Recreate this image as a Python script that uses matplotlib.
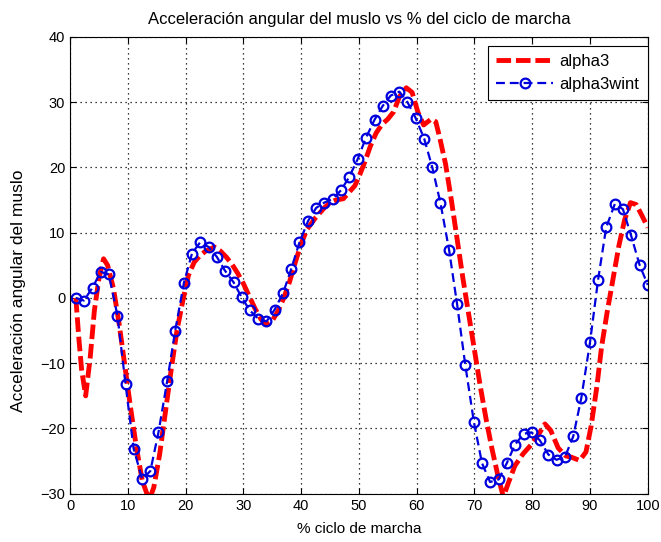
import matplotlib
matplotlib.use("Agg")
import matplotlib.pyplot as plt

plt.rcParams['font.family'] = ['Liberation Sans', 'DejaVu Sans']

# alpha3 (linea roja, sin marcadores)
x_alpha3 = [1.0, 1.5, 2.0, 2.7, 3.5, 4.2, 5.0, 5.8, 6.5, 7.5, 8.5, 9.5, 10.5,
            11.5, 12.5, 13.7, 14.5, 15.5, 16.5, 17.5, 18.5, 19.5, 20.5, 21.5,
            22.5, 23.5, 25.0, 26.0, 27.0, 28.0, 29.0, 30.0, 31.0, 32.0, 33.0,
            34.0, 35.0, 36.0, 37.0, 38.0, 39.0, 40.0, 41.0, 42.5, 44.0, 45.0,
            46.0, 47.3, 48.3, 49.3, 50.2, 51.0, 52.0, 53.0, 54.0, 55.0, 56.0,
            57.0, 58.2, 59.2, 60.2, 61.2, 62.5, 63.3, 64.0, 65.0, 66.0, 67.0,
            68.0, 69.0, 70.0, 71.0, 72.0, 73.0, 74.0, 75.0, 75.8, 77.0, 78.4,
            79.9, 81.3, 82.2, 83.2, 84.5, 85.8, 86.8, 88.2, 89.3, 90.2, 91.2,
            92.0, 93.0, 94.0, 95.0, 96.0, 97.0, 98.0, 99.0, 100.0]
y_alpha3 = [0.0, -6.0, -11.0, -15.0, -9.0, -2.0, 3.0, 6.0, 5.0, 1.5, -4.0,
            -10.5, -17.0, -23.0, -28.0, -31.0, -29.0, -24.0, -17.5, -11.0,
            -5.0, -0.5, 3.5, 5.5, 6.5, 7.2, 7.8, 7.2, 6.3, 5.2, 3.8, 2.2, 0.3,
            -1.6, -3.2, -4.1, -3.5, -2.0, 0.0, 2.5, 5.5, 8.3, 10.5, 12.3,
            13.8, 14.6, 15.0, 15.2, 16.2, 17.2, 19.0, 20.8, 23.3, 25.3, 26.6,
            27.4, 28.5, 30.8, 32.2, 31.5, 28.5, 26.5, 27.4, 27.0, 24.5, 20.5,
            15.0, 9.0, 3.0, -2.5, -8.0, -13.5, -18.5, -23.0, -27.0, -30.5,
            -28.5, -25.7, -23.9, -22.4, -20.6, -19.3, -20.3, -23.0, -24.2,
            -24.4, -24.9, -23.6, -19.6, -13.5, -7.5, -2.0, 3.0, 8.0, 12.0,
            14.6, 14.3, 12.6, 10.8]

# alpha3wint (linea azul con circulos)
x_wint = [1.0, 2.4, 3.9, 5.3, 6.7, 8.2, 9.6, 11.0, 12.5, 13.9, 15.3, 16.8,
          18.2, 19.7, 21.1, 22.5, 24.0, 25.4, 26.8, 28.3, 29.7, 31.1, 32.6,
          34.0, 35.4, 36.9, 38.3, 39.7, 41.2, 42.6, 44.0, 45.5, 46.9, 48.3,
          49.8, 51.2, 52.7, 54.1, 55.5, 57.0, 58.4, 59.8, 61.3, 62.7, 64.1,
          65.6, 67.0, 68.4, 69.9, 71.3, 72.7, 74.2, 75.6, 77.0, 78.5, 79.9,
          81.3, 82.8, 84.2, 85.7, 87.1, 88.5, 90.0, 91.4, 92.8, 94.3, 95.7,
          97.1, 98.6, 100.0]
y_wint = [0.0, -0.4, 1.6, 4.0, 3.6, -2.7, -13.2, -23.1, -27.8, -26.5, -20.6,
          -12.8, -5.0, 2.3, 6.8, 8.5, 7.8, 6.3, 4.2, 2.4, 0.1, -1.9, -3.2,
          -3.6, -1.8, 0.8, 4.5, 8.5, 11.8, 13.8, 14.6, 15.2, 16.5, 18.5, 21.3,
          24.5, 27.3, 29.4, 31.0, 31.6, 30.0, 27.6, 24.4, 20.0, 14.6, 7.4,
          -1.0, -10.2, -19.0, -25.3, -28.2, -27.8, -25.3, -22.5, -20.8, -20.6,
          -21.8, -24.0, -24.8, -24.3, -21.2, -15.3, -6.8, 2.8, 10.8, 14.4,
          13.6, 9.6, 5.0, 2.0]

fig = plt.figure(figsize=(6.61, 5.42), dpi=100)
ax = fig.add_axes([0.106, 0.089, 0.874, 0.843])

ax.plot(x_alpha3, y_alpha3, color='red', linewidth=3.5, dashes=(3, 1),
        label='alpha3')
ax.plot(x_wint, y_wint, color='#0000dd', linewidth=1.6, dashes=(4, 2.2),
        marker='o', markersize=7, markerfacecolor='none',
        markeredgewidth=1.6, label='alpha3wint')

ax.set_xlim(0, 100)
ax.set_ylim(-30, 40)
ax.set_xticks(range(0, 101, 10))
ax.set_yticks(range(-30, 41, 10))
ax.grid(True, color='black', linestyle=(0, (1, 3)), linewidth=0.9)
ax.tick_params(direction='in', top=True, right=True, labelsize=10.5,
               length=4)
for s in ax.spines.values():
    s.set_linewidth(0.8)

ax.set_title('Acceleración angular del muslo vs % del ciclo de marcha',
             fontsize=12, pad=9)
ax.set_xlabel('% ciclo de marcha', fontsize=11, labelpad=7)
ax.set_ylabel('Acceleración angular del muslo', fontsize=12.5)
ax.yaxis.set_label_coords(-0.077, 0.445)

leg = ax.legend(loc='upper right', bbox_to_anchor=(1.0, 0.98), fontsize=12,
                fancybox=False, framealpha=1, edgecolor='black',
                handlelength=3.4, borderaxespad=0, labelspacing=0.45,
                borderpad=0.5, handletextpad=0.4)
leg.get_frame().set_linewidth(0.8)

fig.savefig('out.png', dpi=100)
